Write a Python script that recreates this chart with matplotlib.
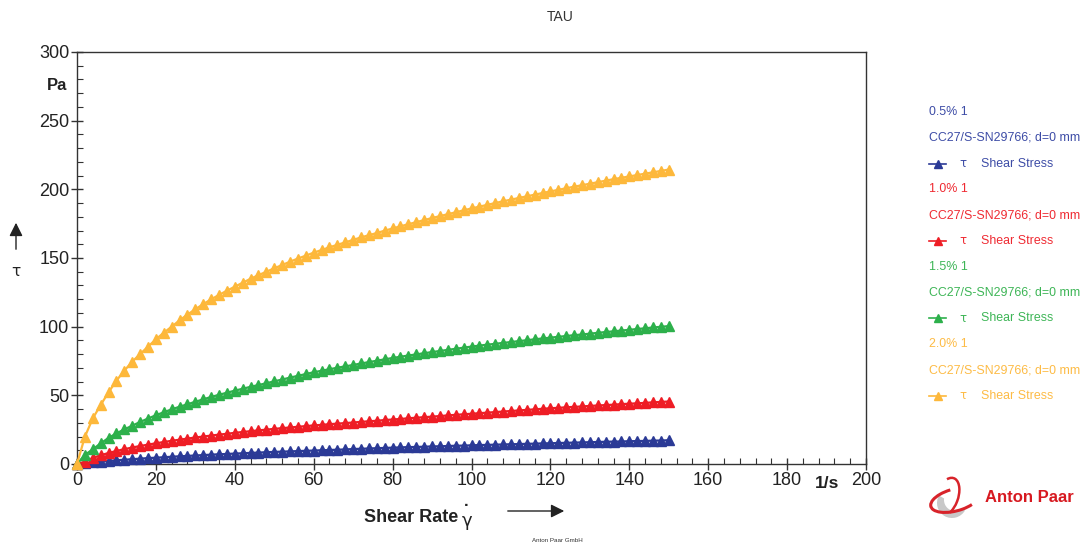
import numpy as np
import matplotlib.pyplot as plt
from matplotlib.patches import Ellipse, Arc, Wedge

plt.rcParams['font.family'] = ['Liberation Sans', 'DejaVu Sans']

# shear rate grid, 1/s (one point every 2 1/s)
shear_rate = list(range(0, 152, 2))

# shear stress, Pa
tau_05 = [0.0, 0.5, 1.2, 1.7, 2.2, 2.7, 3.1, 3.5, 3.9, 4.3, 4.6, 4.9, 5.3, 5.6, 5.9, 6.2,
          6.5, 6.8, 7.1, 7.3, 7.6, 7.8, 8.1, 8.3, 8.6, 8.8, 9.0, 9.2, 9.4, 9.6, 9.8, 10.0,
          10.2, 10.4, 10.6, 10.9, 11.1, 11.3, 11.5, 11.7, 11.9, 12.1, 12.3, 12.4, 12.6, 12.8,
          12.9, 13.1, 13.3, 13.4, 13.6, 13.8, 13.9, 14.1, 14.2, 14.4, 14.5, 14.7, 14.8, 15.0,
          15.1, 15.3, 15.4, 15.6, 15.7, 15.9, 16.0, 16.2, 16.3, 16.4, 16.6, 16.7, 16.8, 17.0,
          17.1, 17.3]
tau_10 = [0.0, 1.7, 4.4, 6.4, 8.0, 9.5, 10.8, 12.0, 13.1, 14.1, 15.1, 16.0, 16.9, 17.7, 18.5,
          19.3, 20.0, 20.7, 21.4, 22.0, 22.7, 23.3, 23.9, 24.5, 25.0, 25.6, 26.1, 26.6, 27.1,
          27.6, 28.1, 28.5, 29.0, 29.4, 29.8, 30.2, 30.7, 31.1, 31.5, 32.0, 32.4, 32.8, 33.3,
          33.7, 34.1, 34.5, 34.9, 35.4, 35.8, 36.2, 36.6, 37.0, 37.4, 37.8, 38.2, 38.6, 39.0,
          39.4, 39.8, 40.2, 40.6, 40.9, 41.3, 41.6, 41.9, 42.3, 42.6, 42.9, 43.2, 43.6, 43.9,
          44.2, 44.5, 44.9, 45.2, 45.5]
tau_15 = [0.0, 6.6, 10.7, 15.0, 19.0, 22.3, 25.2, 27.9, 30.6, 33.1, 35.5, 37.7, 39.8, 41.7,
          43.5, 45.3, 47.1, 48.8, 50.4, 51.9, 53.4, 54.8, 56.2, 57.5, 58.8, 60.2, 61.5, 62.9,
          64.2, 65.5, 66.8, 67.9, 69.0, 70.1, 71.1, 72.1, 73.2, 74.2, 75.2, 76.2, 77.2, 78.1,
          79.0, 79.8, 80.7, 81.5, 82.3, 83.1, 83.9, 84.7, 85.5, 86.2, 86.9, 87.5, 88.2, 88.8,
          89.5, 90.1, 90.8, 91.4, 92.0, 92.6, 93.2, 93.8, 94.3, 94.9, 95.5, 96.1, 96.6, 97.2,
          97.7, 98.3, 98.8, 99.4, 99.9, 100.4]
tau_20 = [0.0, 19.9, 33.2, 43.0, 52.2, 60.7, 68.0, 74.5, 80.1, 85.4, 90.8, 95.6, 100.0, 104.6,
          108.8, 112.7, 116.4, 119.9, 123.1, 126.2, 129.1, 132.0, 134.9, 137.5, 140.0, 142.5,
          144.9, 147.3, 149.6, 151.7, 153.9, 155.8, 157.8, 159.6, 161.4, 163.2, 165.0, 166.6,
          168.2, 169.9, 171.5, 173.1, 174.6, 176.1, 177.6, 179.1, 180.5, 181.9, 183.3, 184.7,
          186.1, 187.4, 188.7, 190.0, 191.3, 192.5, 193.7, 194.9, 196.1, 197.3, 198.5, 199.6,
          200.8, 201.9, 203.0, 204.1, 205.2, 206.3, 207.4, 208.4, 209.4, 210.4, 211.4, 212.4,
          213.4, 214.4]

series_names = ['0.5% 1', '1.0% 1', '1.5% 1', '2.0% 1']
series_vals = [tau_05, tau_10, tau_15, tau_20]
line_cols = ['#2B3A96', '#EE1D25', '#2DB04B', '#FDB83B']
text_cols = ['#3D4CA6', '#EF2A32', '#3DB556', '#FDBB45']

fig = plt.figure(figsize=(10.81, 5.44), dpi=100)
ax = fig.add_axes([77/1081, 1-464/544, (866-77)/1081, (464-52)/544])

for vals, c in zip(series_vals, line_cols):
    ax.plot(shear_rate, vals, color=c, lw=1.6, marker='^', ms=7, mec=c, mfc=c, zorder=3,
            clip_on=False)

ax.set_xlim(0, 200)
ax.set_ylim(0, 300)
ax.set_xticks(range(0, 201, 20))
ax.set_xticklabels(['0', '20', '40', '60', '80', '100', '120', '140', '160', '180', '200'])
ax.set_xticks(range(0, 201, 4), minor=True)
ax.set_yticks(range(0, 301, 50))
ax.set_yticks(range(0, 301, 10), minor=True)
ax.tick_params(which='major', direction='inout', length=9, width=1, color='#333333',
               labelsize=13, labelcolor='#222222', pad=1)
ax.tick_params(which='minor', direction='in', length=4, width=0.8, color='#333333')
for s in ax.spines.values():
    s.set_color('#333333')
    s.set_linewidth(1)

# axis annotations
fig.text(57/1081, 1-86/544, 'Pa', fontsize=12, fontweight='bold', ha='center', va='center', color='#222222')
fig.text(827/1081, 1-483/544, '1/s', fontsize=12.5, fontweight='bold', ha='center', va='center', color='#222222')
fig.text(16/1081, 1-272/544, 'τ', fontsize=11, ha='center', va='center', color='#222222',
         family=['DejaVu Sans'])
ax.annotate('', xy=(16/1081, 1-220/544), xytext=(16/1081, 1-252/544), xycoords='figure fraction',
            arrowprops=dict(arrowstyle='-|>', color='#222222', lw=1, mutation_scale=20))
fig.text(458/1081, 1-518/544, 'Shear Rate', fontsize=13, fontweight='bold', ha='right', va='center',
         color='#222222')
fig.text(467/1081, 1-521/544, 'γ', fontsize=13, ha='center', va='center', color='#222222',
         family=['DejaVu Sans'])
fig.text(467/1081, 1-506/544, '·', fontsize=12, fontweight='bold', ha='center', va='center', color='#222222')
ax.annotate('', xy=(567/1081, 1-511/544), xytext=(505/1081, 1-511/544), xycoords='figure fraction',
            arrowprops=dict(arrowstyle='-|>', color='#222222', lw=1, mutation_scale=20))
fig.text(560/1081, 1-17/544, 'TAU', fontsize=10, ha='center', va='center', color='#333333')
fig.text(557/1081, 1-541/544, 'Anton Paar GmbH', fontsize=4.5, ha='center', va='center', color='#333333')

# legend block
row_y = 112
for name, tc, lc in zip(series_names, text_cols, line_cols):
    fig.text(929/1081, 1-row_y/544, name, fontsize=8.9, color=tc, va='center')
    fig.text(929/1081, 1-(row_y+25.8)/544, 'CC27/S-SN29766; d=0 mm', fontsize=8.9, color=tc, va='center')
    yy = 1-(row_y+51.6)/544
    fig.add_artist(plt.Line2D([929/1081, 946/1081], [yy, yy], color=lc, lw=1.2))
    fig.add_artist(plt.Line2D([937.5/1081], [yy], color=lc, marker='^', ms=6, mec=lc, mfc=lc))
    fig.text(963/1081, yy, 'τ', fontsize=8.5, color=tc, va='center', ha='center', family=['DejaVu Sans'])
    fig.text(981/1081, yy, 'Shear Stress', fontsize=8.9, color=tc, va='center')
    row_y += 77.4

# Anton Paar logo
lax = fig.add_axes([925/1081, 1-525/544, 65/1081, 50/544])
lax.set_xlim(0, 65)
lax.set_ylim(0, 50)
lax.axis('off')
lax.add_patch(Wedge((27, 22), 15, 150, 330, color='#C8C8C8', lw=0))
lax.add_patch(Ellipse((30, 25), 22, 22, color='white', lw=0))
lax.add_patch(Arc((30, 25), 50, 22, angle=15, theta1=100, theta2=330, color='#D8232A', lw=2.2))
lax.add_patch(Arc((22, 28), 22, 40, angle=-20, theta1=-60, theta2=110, color='#D8232A', lw=1.8))
fig.text(985/1081, 1-497/544, 'Anton Paar', fontsize=12, fontweight='bold', color='#D71920', va='center')

fig.savefig('out.png', dpi=100)
